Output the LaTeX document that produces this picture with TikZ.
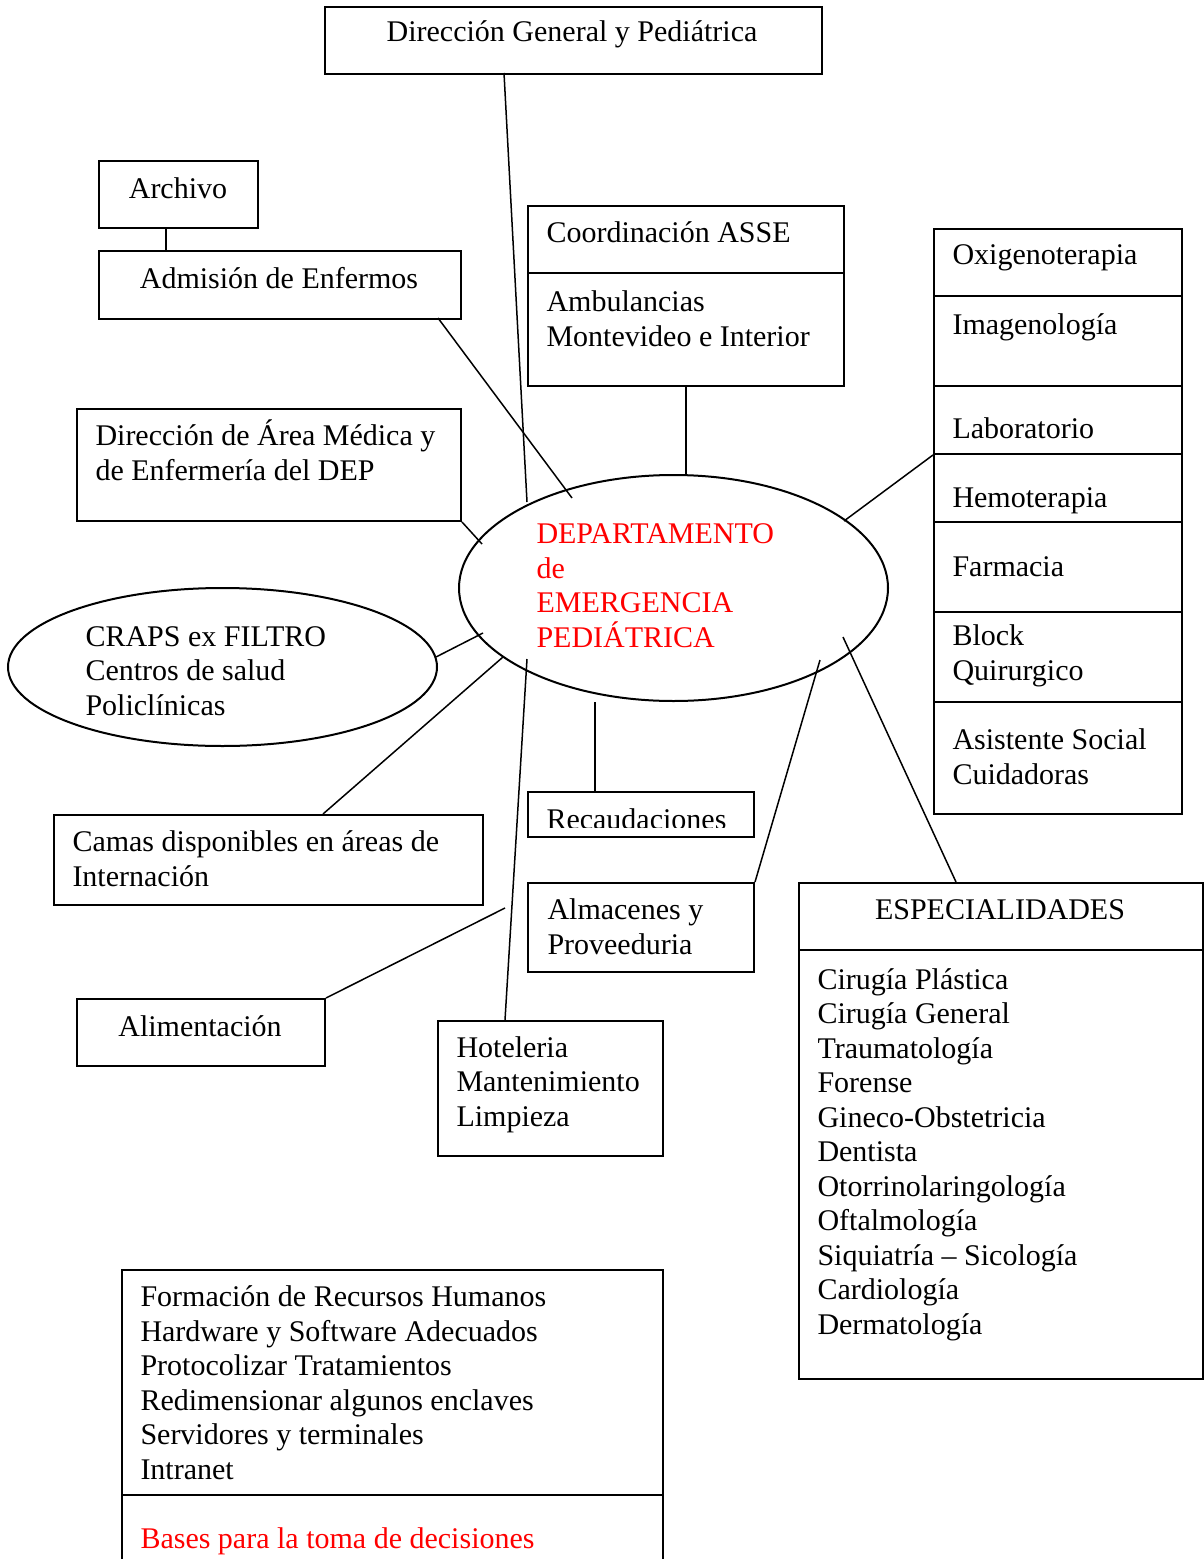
\documentclass[tikz,border=0pt]{standalone}
\usepackage{fontspec}
\setmainfont{Liberation Serif}
\usetikzlibrary{shapes.geometric}
\definecolor{depRed}{HTML}{FF0000}
\tikzset{
  every picture/.style={font=\fontsize{12pt}{13.8pt}\selectfont},
  org box/.style 2 args={draw, line width=0.8pt, rectangle, inner sep=0pt,
    anchor=north west, minimum width=(#1)*0.4pt, minimum height=(#2)*0.4pt},
  org ellipse/.style 2 args={draw, ellipse, line width=0.8pt, inner sep=0pt,
    minimum width=(#1)*0.4pt, minimum height=(#2)*0.4pt},
  org text/.style={inner sep=0pt, anchor=base west, align=left},
  org red/.style={org text, text=depRed},
  link/.style={draw, line width=0.6pt}
}
\begin{document}
\begin{tikzpicture}[x=0.4pt,y=-0.4pt]
  \clip (0,0) rectangle (1204,1559);

  % boxes around the department (multi-line texts sit on their last line)
  \node[org box={497}{67}] (dirgen) at (324,6) {};
  \node[org text, anchor=base] (dirgen-t) at (572,42) {Dirección General y Pediátrica};
  \node[org box={159}{67}] (archivo) at (98,160) {};
  \node[org text, anchor=base] (archivo-t) at (178,198) {Archivo};
  \node[org box={362}{68}] (admision) at (98,250) {};
  \node[org text, anchor=base] (admision-t) at (279,288) {Admisión de Enfermos};
  \node[org box={316}{67}] (asse-h) at (527,205) {};
  \node[org box={316}{113}] (asse) at (527,272) {};
  \node[org text] (asse-ht) at (546,242) {Coordinación ASSE};
  \node[org text] (asse-t) at (546,346) {Ambulancias\\Montevideo e Interior};
  \node[org box={384}{112}] (dirarea) at (76,408) {};
  \node[org text] (dirarea-t) at (95,480) {Dirección de Área Médica y\\de Enfermería del DEP};
  \node[org box={429}{90}] (camas) at (53,814) {};
  \node[org text] (camas-t) at (72,886) {Camas disponibles en áreas de\\Internación};
  \node[org box={248}{67}] (alim) at (76,998) {};
  \node[org text, anchor=base] (alim-t) at (200,1036) {Alimentación};
  \node[org box={225}{135}] (hotel) at (437,1020) {};
  \node[org text] (hotel-t) at (456,1126) {Hoteleria\\Mantenimiento\\Limpieza};
  \node[org box={226}{45}] (recaud) at (527,791) {};
  \begin{scope}
    \clip (527,791) rectangle (753,827);
    \node[org text] (recaud-t) at (546,829) {Recaudaciones};
  \end{scope}
  \node[org box={226}{89}] (almac) at (527,882) {};
  \node[org text] (almac-t) at (547,954) {Almacenes y\\Proveeduria};

  % department and CRAPS
  \node[org ellipse={429}{226}] (dep) at (673.5,588) {};
  \node[org red] (dep-t) at (536,647) {DEPARTAMENTO\\de\\EMERGENCIA\\PEDIÁTRICA};
  \node[org ellipse={429}{158}] (craps) at (222.5,667) {};
  \node[org text] (craps-t) at (85,715) {CRAPS ex FILTRO\\Centros de salud\\Policlínicas};

  % column of services
  \foreach \n/\top/\bot in {oxi/228/295, ima/295/385, lab/385/453, hem/453/521,
      far/521/611, blo/611/701, asi/701/813}
    \node[org box={248}{\bot-\top}] (\n) at (933,\top) {};
  \node[org text] (oxi-t) at (952,264) {Oxigenoterapia};
  \node[org text] (ima-t) at (952,334) {Imagenología};
  \node[org text] (lab-t) at (952,438) {Laboratorio};
  \node[org text] (hem-t) at (952,507) {Hemoterapia};
  \node[org text] (far-t) at (952,576) {Farmacia};
  \node[org text] (blo-t) at (952,680) {Block\\Quirurgico};
  \node[org text] (asi-t) at (952,784) {Asistente Social\\Cuidadoras};

  % especialidades
  \node[org box={404}{67}] (esp-h) at (798,882) {};
  \node[org box={404}{429}] (esp) at (798,949) {};
  \node[org text, anchor=base] (esp-ht) at (1000,919) {ESPECIALIDADES};
  \node[org text] (esp-t) at (817,1334) {Cirugía Plástica\\Cirugía General\\Traumatología\\Forense\\Gineco-Obstetricia\\Dentista\\Otorrinolaringología\\Oftalmología\\Siquiatría – Sicología\\Cardiología\\Dermatología};

  % bases para decisiones
  \node[org box={541}{225}] (bases-h) at (121,1269) {};
  \node[org box={541}{120}] (bases) at (121,1494) {};
  \node[org text] (bases-ht) at (140,1479) {Formación de Recursos Humanos\\Hardware y Software Adecuados\\Protocolizar Tratamientos\\Redimensionar algunos enclaves\\Servidores y terminales\\Intranet};
  \node[org red] (bases-t) at (140,1548) {Bases para la toma de decisiones};

  % ends of the connectors
  \coordinate (dirgen-a) at (504,73);
  \coordinate (dep-dirgen) at (527,502);
  \coordinate (archivo-a) at (166,227);
  \coordinate (admision-b) at (166,250);
  \coordinate (admision-a) at (438,318);
  \coordinate (dep-admision) at (572,498);
  \coordinate (dep-dirarea) at (482,544);
  \coordinate (craps-a) at (436,657);
  \coordinate (dep-craps) at (483,633);
  \coordinate (camas-a) at (323,814);
  \coordinate (dep-camas) at (503,657);
  \coordinate (dep-alim) at (505,908);
  \coordinate (hotel-a) at (505,1020);
  \coordinate (dep-hotel) at (527,659);
  \coordinate (recaud-a) at (595,791);
  \coordinate (dep-recaud) at (595,702);
  \coordinate (dep-almac) at (820,660);
  \coordinate (esp-a) at (956,882);
  \coordinate (dep-esp) at (843,637);
  \coordinate (dep-lab) at (844,521);

  \foreach \a/\b in {dirgen-a/dep-dirgen, archivo-a/admision-b, admision-a/dep-admision,
      dirarea.south east/dep-dirarea, craps-a/dep-craps, camas-a/dep-camas,
      alim.north east/dep-alim, hotel-a/dep-hotel, recaud-a/dep-recaud,
      almac.north east/dep-almac, esp-a/dep-esp, lab.south west/dep-lab}
    \draw[link] (\a) -- (\b);
  \draw[link] (asse.south) -- (asse.south |- dep.north);
\end{tikzpicture}
\end{document}
